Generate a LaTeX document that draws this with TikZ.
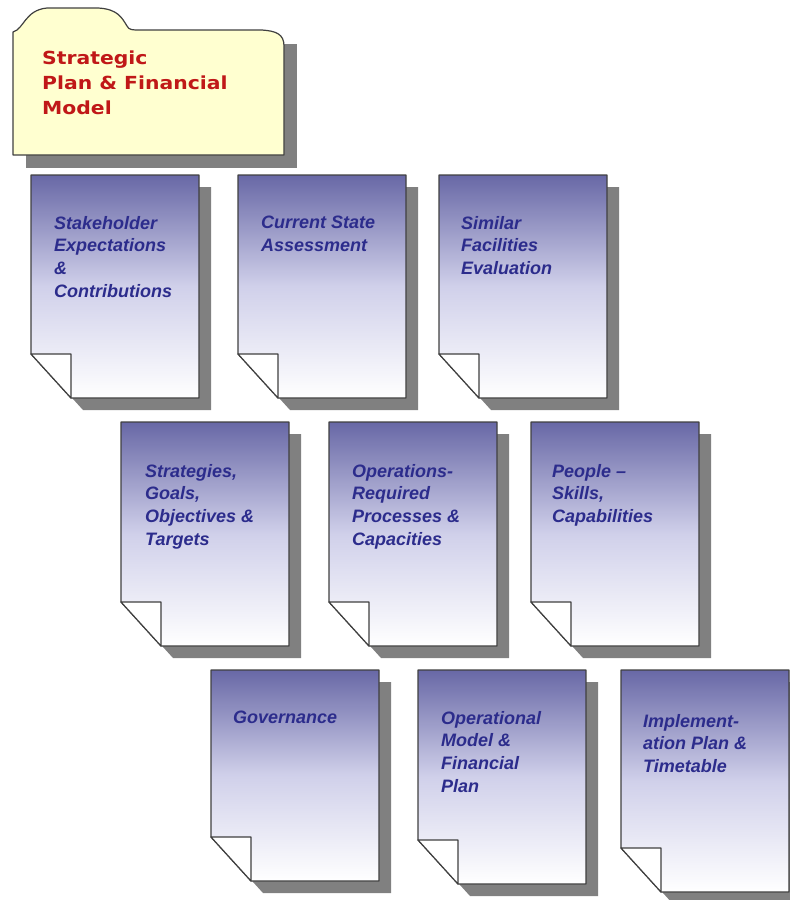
\documentclass[tikz,border=0pt]{standalone}
\usepackage{fontspec}
\setmainfont{Liberation Sans}
\newfontfamily\folderfont[FakeStretch=1.13]{DejaVu Sans}
\usetikzlibrary{positioning}
\definecolor{sheettop}{RGB}{104,104,166}
\definecolor{sheetmid}{RGB}{208,208,234}
\definecolor{sheetink}{RGB}{44,44,140}
\definecolor{folderfill}{RGB}{255,255,208}
\definecolor{folderink}{RGB}{192,24,24}
\tikzset{
  sheetline/.style={draw=black!75, line width=1.2pt, line join=round},
  dropshade/.style={fill=black!50},
  sheettext/.style={inner sep=0pt, anchor=north west, align=left, text=sheetink,
                    font=\fontsize{18}{22.6}\selectfont\bfseries\itshape},
  foldertext/.style={inner sep=0pt, anchor=north west, align=left, text=folderink,
                     font=\folderfont\fontsize{18}{25}\selectfont\bfseries},
  docsheet/.pic={
    \fill[dropshade] (52,#1+12) -- (12,#1-32) -- (12,12) -- (180,12) -- (180,#1+12) -- cycle;
    \path[sheetline, top color=sheettop, bottom color=white, middle color=sheetmid]
      (0,0) -- (168,0) -- (168,#1) -- (40,#1) -- (0,#1-44) -- cycle;
    \draw[sheetline, fill=white] (0,#1-44) -- (40,#1-44) -- (40,#1) -- cycle;
  },
}

\begin{document}
\begin{tikzpicture}[x=1pt, y=-1pt]
  \useasboundingbox (0,0) rectangle (790,900);

  % folder
  \fill[dropshade] (26,44) -- (297,44) -- (297,168) -- (26,168) -- cycle;
  \draw[sheetline, fill=folderfill] (13,155) -- (13,32)
    .. controls (24,29) and (25,10) .. (47,8)
    -- (98,8) .. controls (118,9) and (122,18) .. (127,26)
    .. controls (129,30) and (132,30) .. (140,30)
    -- (262,30) .. controls (276,31) and (284,34) .. (284,46)
    -- (284,155) -- cycle;
  \node[foldertext] (folder) at (42,51) {Strategic\\Plan \& Financial\\Model};

  % first row
  \pic at (31,175) {docsheet=223};
  \pic at (238,175) {docsheet=223};
  \pic at (439,175) {docsheet=223};
  \node[sheettext] (stakeholder) at (54,216) {Stakeholder\\Expectations\\\&\\Contributions};
  \node[sheettext] (current) at (261,216) {Current State\\Assessment};
  \node[sheettext] (similar) at (461,216) {Similar\\Facilities\\Evaluation};

  % second row
  \pic at (121,422) {docsheet=224};
  \pic at (329,422) {docsheet=224};
  \pic at (531,422) {docsheet=224};
  \node[sheettext] (strategies) at (145,464) {Strategies,\\Goals,\\Objectives \&\\Targets};
  \node[sheettext] (operations) at (352,464) {Operations-\\Required\\Processes \&\\Capacities};
  \node[sheettext] (people) at (552,464) {People --\\Skills,\\Capabilities};

  % third row
  \pic at (211,670) {docsheet=211};
  \pic at (418,670) {docsheet=214};
  \pic at (621,670) {docsheet=222};
  \node[sheettext] (governance) at (233,711) {Governance};
  \node[sheettext] (operational) at (441,711) {Operational\\Model \&\\Financial\\Plan};
  \node[sheettext] (implementation) at (643,714) {Implement-\\ation Plan \&\\Timetable};
\end{tikzpicture}
\end{document}
